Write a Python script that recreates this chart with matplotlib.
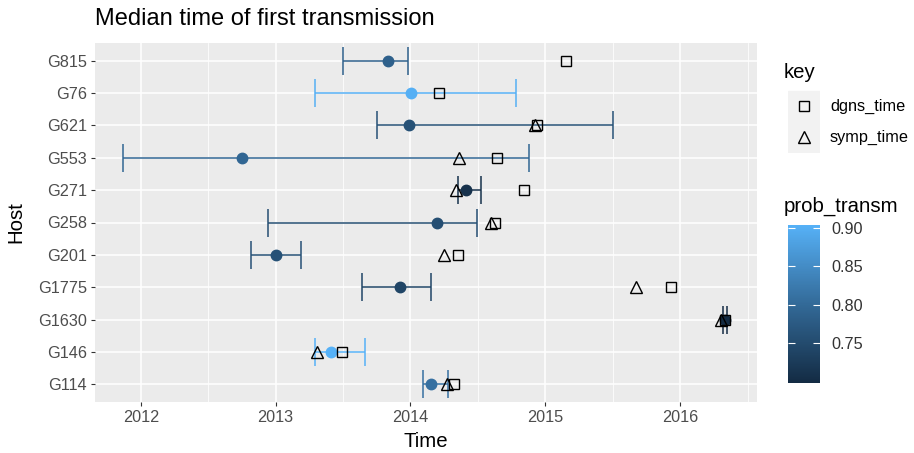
import matplotlib
matplotlib.use("Agg")
import matplotlib.pyplot as plt
import numpy as np
from matplotlib.colors import LinearSegmentedColormap, Normalize
from matplotlib.colorbar import ColorbarBase
from matplotlib.patches import Rectangle

plt.rcParams["font.family"] = ["Liberation Sans", "DejaVu Sans"]

# data, bottom row first (alphabetical)
hosts = ["G114", "G146", "G1630", "G1775", "G201", "G258", "G271", "G553", "G621", "G76", "G815"]
median_time = [2014.155, 2013.41, 2016.335, 2013.92, 2013.00, 2014.20, 2014.41, 2012.75, 2013.99, 2014.005, 2013.83]
lower_time = [2014.09, 2013.29, 2016.32, 2013.64, 2012.82, 2012.94, 2014.35, 2011.87, 2013.75, 2013.29, 2013.50]
upper_time = [2014.28, 2013.66, 2016.35, 2014.15, 2013.19, 2014.49, 2014.52, 2014.88, 2015.50, 2014.78, 2013.98]
prob_transm = [0.81, 0.905, 0.70, 0.74, 0.76, 0.755, 0.71, 0.795, 0.76, 0.90, 0.785]
dgns_time = [2014.32, 2013.49, 2016.335, 2015.93, 2014.35, 2014.63, 2014.84, 2014.64, 2014.94, 2014.21, 2015.15]
symp_time = [2014.27, 2013.31, 2016.30, 2015.67, 2014.25, 2014.60, 2014.34, 2014.36, 2014.925, np.nan, np.nan]

x_ticks = [2012, 2013, 2014, 2015, 2016]
cbar_ticks = [0.75, 0.80, 0.85, 0.90]

cmap = LinearSegmentedColormap.from_list("gg", ["#132B43", "#336A98", "#56B1F7"])
norm = Normalize(0.698, 0.904)

W, H = 914, 453
fig = plt.figure(figsize=(W / 100, H / 100), dpi=100)
ax = fig.add_axes([95 / W, 1 - 402 / H, (757 - 95) / W, (402 - 43) / H])
ax.set_facecolor("#EBEBEB")
for s in ax.spines.values():
    s.set_visible(False)

y = np.arange(len(hosts))
ax.set_xlim(2011.66, 2016.57)
ax.set_ylim(-0.55, len(hosts) - 0.45)

# grid
for xm in np.arange(2011.5, 2017, 1.0):
    ax.axvline(xm, color="white", lw=0.55, zorder=0)
for xt in x_ticks:
    ax.axvline(xt, color="white", lw=1.1, zorder=0)
for yy in y:
    ax.axhline(yy, color="white", lw=1.1, zorder=0)

for i in range(len(hosts)):
    c = cmap(norm(prob_transm[i]))
    ax.errorbar(median_time[i], y[i],
                xerr=[[median_time[i] - lower_time[i]], [upper_time[i] - median_time[i]]],
                fmt="none", ecolor=c, elinewidth=1.1, capsize=10, capthick=1.1, zorder=2)
    ax.plot(median_time[i], y[i], "o", color=c, ms=7.5, zorder=3)

ax.plot(dgns_time, y, "s", mfc="none", mec="black", ms=7, mew=1.0, ls="none", zorder=4)
ax.plot(symp_time, y, "^", mfc="none", mec="black", ms=8.5, mew=1.0, ls="none", zorder=4)

ax.set_xticks(x_ticks)
ax.set_xticklabels([str(t) for t in x_ticks])
ax.set_yticks(y)
ax.set_yticklabels(hosts)
ax.tick_params(length=3, width=0.8, color="#333333", labelcolor="#4D4D4D", labelsize=11.7, pad=3)
ax.set_xlabel("Time", fontsize=14.7, labelpad=5)
ax.set_ylabel("Host", fontsize=14.7, labelpad=9)
fig.text(95 / W, 1 - 19 / H, "Median time of first transmission", fontsize=17, va="center", ha="left")

# shape legend
fig.text(784 / W, 1 - 73 / H, "key", fontsize=14.7, va="center", ha="left")
lax = fig.add_axes([788 / W, 1 - 153 / H, 32 / W, 63 / H])
lax.set_xlim(0, 1)
lax.set_ylim(0, 2)
lax.axis("off")
for k, (mk, lbl, ms) in enumerate([("s", "dgns_time", 7), ("^", "symp_time", 8.5)]):
    yy = 1.5 - k
    lax.add_patch(Rectangle((0, yy - 0.48), 1, 0.96, color="#F2F2F2"))
    lax.plot(0.5, yy, mk, mfc="none", mec="black", ms=ms, mew=1.0)
    fig.text(830 / W, 1 - (106 + 31 * k) / H, lbl, fontsize=11.7, va="center", ha="left")

# colour bar
fig.text(784 / W, 1 - 206 / H, "prob_transm", fontsize=14.7, va="center", ha="left")
cax = fig.add_axes([788 / W, 1 - 383 / H, 32 / W, 158 / H])
cb = ColorbarBase(cax, cmap=cmap, norm=norm, ticks=cbar_ticks)
cb.outline.set_visible(False)
cax.yaxis.set_ticks_position("both")
cax.tick_params(axis="y", direction="in", color="white", length=5, width=0.8,
                left=True, right=True, labelleft=False, labelright=True,
                labelsize=11.7, labelcolor="#333333", pad=8)
cax.set_yticklabels(["%.2f" % t for t in cbar_ticks])

fig.savefig("out.png", dpi=100)
